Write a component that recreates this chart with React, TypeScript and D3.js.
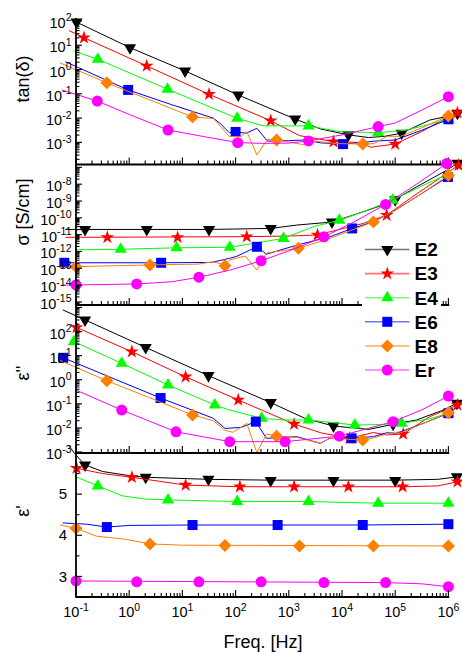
import React from "react";
import * as d3 from "d3";

type Pt = [number, number];

// x of every point: log10(frequency / Hz)
// y: log10(value) for tan(δ), σ and ε''; plain value for ε'
const FREQ_LABEL_EXPS = [-1, 0, 1, 2, 3, 4, 5, 6];

// ---------- tan(δ) ----------
const tanE2: Pt[] = [[-1.0, 1.96], [-0.99, 1.95], [0.015, 0.9], [1.05, -0.06], [2.05, -1.05], [3.12, -2.04], [3.6, -2.45], [4.12, -2.69], [4.5, -2.8], [4.8, -2.75], [5.12, -2.62], [5.65, -2.08], [6.0, -1.92], [6.17, -1.8]];
const tanE2M: Pt[] = [[-0.99, 1.95], [0.015, 0.9], [1.05, -0.06], [2.05, -1.05], [3.12, -2.04], [4.12, -2.69], [5.12, -2.62], [6.17, -1.8]];
const tanE3: Pt[] = [[-1.13, 1.6], [-0.85, 1.31], [0.33, 0.145], [1.5, -1.02], [2.66, -2.11], [3.2, -2.72], [3.84, -2.97], [4.3, -3.0], [4.55, -3.2], [4.7, -3.15], [5.0, -3.07], [5.5, -2.55], [6.0, -1.95], [6.17, -1.78]];
const tanE3M: Pt[] = [[-0.85, 1.31], [0.33, 0.145], [1.5, -1.02], [2.66, -2.11], [3.84, -2.97], [5.0, -3.07], [6.17, -1.78]];
const tanE4: Pt[] = [[-1.04, 0.76], [-0.59, 0.42], [0.72, -0.81], [2.03, -2.01], [2.52, -2.32], [3.37, -2.32], [3.96, -2.56], [4.68, -2.6], [5.2, -2.5], [5.65, -2.25], [6.0, -2.05]];
const tanE4M: Pt[] = [[-0.59, 0.42], [0.72, -0.81], [2.03, -2.01], [3.37, -2.32], [4.68, -2.6], [6.0, -2.05]];
const tanE6: Pt[] = [[-1.2, 0.32], [-0.02, -0.84], [0.8, -1.45], [1.58, -2.0], [1.72, -2.24], [1.88, -2.6], [2.0, -2.57], [2.2, -2.62], [2.4, -2.42], [2.6, -2.95], [3.0, -2.93], [3.3, -2.9], [3.6, -3.02], [4.02, -3.07], [4.4, -3.0], [4.6, -2.95], [5.0, -2.9], [5.5, -2.5], [6.0, -2.05]];
const tanE6M: Pt[] = [[-0.02, -0.84], [2.0, -2.57], [4.02, -3.07], [6.0, -2.05]];
const tanE8: Pt[] = [[-1.3, 0.27], [-0.42, -0.55], [0.5, -1.35], [1.19, -1.95], [1.58, -2.02], [1.72, -2.35], [1.88, -2.76], [2.1, -2.76], [2.21, -2.56], [2.4, -3.52], [2.6, -2.88], [2.77, -2.9], [3.3, -3.1], [3.5, -2.95], [3.9, -3.05], [4.39, -3.07], [4.6, -3.05], [4.85, -2.75], [5.1, -2.75], [5.5, -2.4], [6.0, -1.91]];
const tanE8M: Pt[] = [[-0.42, -0.55], [1.19, -1.95], [2.77, -2.9], [4.39, -3.07], [6.0, -1.91]];
const tanEr: Pt[] = [[-1.27, -0.84], [-0.6, -1.3], [0.0, -1.85], [0.73, -2.49], [1.5, -2.8], [2.04, -3.01], [2.5, -3.04], [3.0, -3.03], [3.37, -2.94], [4.0, -2.69], [4.68, -2.35], [5.0, -2.2], [5.5, -1.67], [6.0, -1.12]];
const tanErM: Pt[] = [[-0.6, -1.3], [0.73, -2.49], [2.04, -3.01], [3.37, -2.94], [4.68, -2.35], [6.0, -1.12]];

// ---------- σ [S/cm] ----------
const sigE2: Pt[] = [[-1.2, -10.69], [1.5, -10.69], [2.66, -10.63], [3.15, -10.43], [3.81, -10.25], [4.4, -9.64], [4.9, -9.09], [5.4, -8.16], [5.97, -7.17], [6.17, -6.75]];
const sigE2M: Pt[] = [[-0.83, -10.69], [0.33, -10.69], [1.5, -10.69], [2.66, -10.63], [3.81, -10.25], [5.0, -8.92], [6.17, -6.75]];
const sigE3: Pt[] = [[-1.2, -11.16], [2.21, -11.12], [3.0, -11.08], [3.54, -11.02], [3.77, -10.83], [4.4, -10.33], [4.84, -9.84], [5.3, -8.8], [5.72, -7.9], [6.19, -6.87]];
const sigE3M: Pt[] = [[-0.41, -11.16], [0.91, -11.16], [2.21, -11.12], [3.54, -11.02], [4.84, -9.84], [6.19, -6.87]];
const sigE4: Pt[] = [[-1.0, -11.9], [-0.16, -11.87], [0.89, -11.78], [1.89, -11.75], [2.52, -11.42], [2.9, -11.22], [3.46, -10.53], [3.95, -10.14], [4.4, -9.64], [4.95, -8.95], [5.5, -8.1], [6.0, -7.4]];
const sigE4M: Pt[] = [[-0.16, -11.87], [0.89, -11.78], [1.89, -11.75], [2.9, -11.22], [3.95, -10.14], [4.95, -8.95], [6.0, -7.4]];
const sigE6: Pt[] = [[-1.22, -12.67], [0.6, -12.67], [1.55, -12.65], [1.89, -12.4], [2.02, -12.29], [2.4, -11.72], [2.58, -12.16], [3.15, -11.62], [3.77, -11.13], [4.19, -10.63], [4.59, -10.24], [5.0, -9.55], [5.5, -8.55], [5.99, -7.57]];
const sigE6M: Pt[] = [[-1.22, -12.67], [0.6, -12.67], [2.4, -11.72], [4.19, -10.63], [5.99, -7.57]];
const sigE8: Pt[] = [[-1.3, -12.95], [-1.0, -12.9], [0.39, -12.8], [1.3, -12.75], [1.58, -12.61], [1.8, -12.8], [1.89, -12.5], [2.18, -12.27], [2.4, -13.1], [2.58, -12.09], [3.18, -11.81], [3.77, -11.23], [4.59, -10.24], [5.0, -9.55], [5.5, -8.55], [6.0, -7.47]];
const sigE8M: Pt[] = [[-1.0, -12.9], [0.39, -12.8], [1.8, -12.85], [3.18, -11.81], [4.59, -10.24], [6.0, -7.47]];
const sigEr: Pt[] = [[-1.27, -14.0], [-1.0, -13.99], [0.14, -13.93], [0.8, -13.8], [1.31, -13.53], [1.9, -13.1], [2.48, -12.55], [3.1, -11.85], [3.66, -11.13], [4.25, -10.2], [4.82, -9.2], [5.4, -8.0], [5.97, -6.77]];
const sigErM: Pt[] = [[-1.0, -13.99], [0.14, -13.93], [1.31, -13.53], [2.48, -12.55], [3.66, -11.13], [4.82, -9.2], [5.97, -6.77]];

// ---------- ε'' ----------
const eppE2: Pt[] = [[-1.25, 2.9], [-0.83, 2.48], [0.31, 1.34], [1.49, 0.17], [2.66, -0.95], [3.3, -1.6], [3.84, -1.92], [4.5, -2.06], [4.96, -1.85], [5.4, -1.67], [5.9, -1.26], [6.16, -0.98]];
const eppE2M: Pt[] = [[-0.83, 2.48], [0.31, 1.34], [1.49, 0.17], [2.66, -0.95], [3.84, -1.92], [4.96, -1.85], [6.16, -0.98]];
const eppE3: Pt[] = [[-1.1, 2.3], [-0.99, 2.17], [0.05, 1.16], [1.06, 0.12], [2.05, -0.84], [3.1, -1.84], [3.6, -2.2], [4.14, -2.43], [4.59, -2.19], [4.84, -2.29], [5.15, -2.25], [5.65, -1.53], [6.17, -1.05]];
const eppE3M: Pt[] = [[-0.99, 2.17], [0.05, 1.16], [1.06, 0.12], [2.05, -0.84], [3.1, -1.84], [4.14, -2.43], [5.15, -2.25], [6.17, -1.05]];
const eppE4: Pt[] = [[-1.1, 1.62], [-1.04, 1.58], [-0.14, 0.68], [0.73, -0.22], [1.61, -1.05], [1.89, -1.26], [2.49, -1.6], [2.9, -1.67], [3.37, -1.67], [4.24, -1.88], [4.7, -1.86], [5.12, -1.81], [5.65, -1.62], [6.0, -1.39]];
const eppE4M: Pt[] = [[-1.04, 1.58], [-0.14, 0.68], [0.73, -0.22], [1.61, -1.05], [2.49, -1.6], [3.37, -1.67], [4.24, -1.88], [5.12, -1.81], [6.0, -1.39]];
const eppE6: Pt[] = [[-1.24, 0.91], [0.59, -0.76], [1.58, -1.6], [1.8, -2.02], [2.1, -1.98], [2.38, -1.74], [2.58, -2.43], [3.15, -2.36], [3.59, -2.64], [3.77, -2.43], [4.18, -2.43], [4.59, -2.36], [4.84, -2.2], [5.03, -2.22], [5.6, -1.75], [6.0, -1.39]];
const eppE6M: Pt[] = [[-1.24, 0.91], [0.59, -0.76], [2.38, -1.74], [4.18, -2.43], [6.0, -1.39]];
const eppE8: Pt[] = [[-1.3, 0.8], [-0.42, -0.04], [1.19, -1.46], [1.58, -1.7], [1.8, -2.1], [1.95, -2.18], [2.21, -1.81], [2.4, -3.03], [2.58, -2.25], [2.77, -2.34], [3.15, -2.39], [3.59, -2.64], [3.77, -2.43], [4.39, -2.5], [4.59, -2.42], [4.84, -2.25], [5.1, -2.2], [5.6, -1.75], [6.0, -1.37]];
const eppE8M: Pt[] = [[-0.42, -0.04], [1.19, -1.46], [2.77, -2.34], [4.39, -2.5], [6.0, -1.37]];
const eppEr: Pt[] = [[-1.0, -0.43], [-0.14, -1.26], [0.88, -2.16], [1.89, -2.57], [2.93, -2.57], [3.95, -2.34], [4.96, -1.74], [5.5, -1.25], [6.0, -0.68]];
const eppErM: Pt[] = [[-0.14, -1.26], [0.88, -2.16], [1.89, -2.57], [2.93, -2.57], [3.95, -2.34], [4.96, -1.74], [6.0, -0.68]];

// ---------- ε' ----------
const epE2: Pt[] = [[-1.15, 6.2], [-1.0, 5.95], [-0.83, 5.71], [-0.5, 5.55], [0.0, 5.45], [0.31, 5.41], [1.49, 5.36], [2.66, 5.34], [3.84, 5.34], [5.0, 5.34], [5.8, 5.36], [6.16, 5.42]];
const epE2M: Pt[] = [[-0.83, 5.71], [0.31, 5.41], [1.49, 5.36], [2.66, 5.33], [3.84, 5.33], [5.0, 5.33], [6.16, 5.42]];
const epE3: Pt[] = [[-1.1, 5.68], [-0.99, 5.63], [-0.5, 5.5], [0.05, 5.41], [1.06, 5.22], [2.05, 5.18], [5.17, 5.18], [5.8, 5.2], [6.17, 5.3]];
const epE3M: Pt[] = [[-0.99, 5.63], [0.05, 5.41], [1.06, 5.22], [2.08, 5.18], [3.1, 5.18], [4.12, 5.18], [5.14, 5.18], [6.17, 5.3]];
const epE4: Pt[] = [[-1.0, 5.42], [-0.59, 5.2], [-0.13, 4.96], [0.3, 4.88], [0.73, 4.86], [2.03, 4.82], [3.37, 4.82], [4.68, 4.78], [6.0, 4.78]];
const epE4M: Pt[] = [[-0.59, 5.2], [0.73, 4.86], [2.03, 4.82], [3.37, 4.82], [4.68, 4.78], [6.0, 4.78]];
const epE6: Pt[] = [[-1.25, 4.3], [-0.8, 4.27], [-0.42, 4.2], [0.0, 4.24], [1.19, 4.25], [2.79, 4.25], [4.39, 4.25], [6.0, 4.27]];
const epE6M: Pt[] = [[-0.42, 4.2], [1.19, 4.25], [2.79, 4.25], [4.39, 4.25], [6.0, 4.27]];
const epE8: Pt[] = [[-1.3, 4.25], [-1.0, 4.17], [-0.62, 3.98], [-0.05, 3.9], [0.39, 3.79], [1.0, 3.76], [6.0, 3.74]];
const epE8M: Pt[] = [[-1.0, 4.17], [0.39, 3.79], [1.8, 3.75], [3.2, 3.74], [4.59, 3.74], [6.0, 3.74]];
const epEr: Pt[] = [[-1.0, 2.89], [4.82, 2.85], [5.5, 2.82], [6.0, 2.75]];
const epErM: Pt[] = [[-1.0, 2.89], [0.14, 2.87], [1.31, 2.87], [2.48, 2.87], [3.66, 2.85], [4.82, 2.85], [6.0, 2.75]];

const SERIES_NAMES = ["E2", "E3", "E4", "E6", "E8", "Er"];

type PanelKey = "tan" | "sig" | "epp" | "ep";
const SERIES_DATA: Record<PanelKey, [Pt[], Pt[]][]> = {
  tan: [[tanE2, tanE2M], [tanE3, tanE3M], [tanE4, tanE4M], [tanE6, tanE6M], [tanE8, tanE8M], [tanEr, tanErM]],
  sig: [[sigE2, sigE2M], [sigE3, sigE3M], [sigE4, sigE4M], [sigE6, sigE6M], [sigE8, sigE8M], [sigEr, sigErM]],
  epp: [[eppE2, eppE2M], [eppE3, eppE3M], [eppE4, eppE4M], [eppE6, eppE6M], [eppE8, eppE8M], [eppEr, eppErM]],
  ep: [[epE2, epE2M], [epE3, epE3M], [epE4, epE4M], [epE6, epE6M], [epE8, epE8M], [epEr, epErM]],
};

// ---------- styles ----------
const COLORS = ["#000000", "#ff0000", "#00ff00", "#0000ff", "#ff8000", "#ff00ff"];
const SHAPES = ["down", "star", "up", "square", "diamond", "circle"];
const FONT = "'Liberation Sans', Arial, Helvetica, sans-serif";

const SYM: Record<string, { d: string; rot: number }> = {
  down: { d: d3.symbol(d3.symbolTriangle, 64)() as string, rot: 180 },
  star: { d: d3.symbol(d3.symbolStar, 58)() as string, rot: 0 },
  up: { d: d3.symbol(d3.symbolTriangle, 64)() as string, rot: 0 },
  square: { d: d3.symbol(d3.symbolSquare, 100)() as string, rot: 0 },
  diamond: { d: d3.symbol(d3.symbolSquare, 84)() as string, rot: 45 },
  circle: { d: d3.symbol(d3.symbolCircle, 95)() as string, rot: 0 },
};

const X_LEFT = 76;
const X_RIGHT = 448.4;

interface Panel {
  key: PanelKey;
  top: number;
  bottom: number;
  log: boolean;
  lo: number;
  hi: number;
  labels: number[];
  minors?: number[];
  title: string;
  titleY: number;
}

const PANELS: Panel[] = [
  { key: "tan", top: 18, bottom: 164.5, log: true, lo: -3.91, hi: 2.12, labels: [-3, -2, -1, 0, 1, 2], title: "tan(δ)", titleY: 79 },
  { key: "sig", top: 164.5, bottom: 305, log: true, lo: -15.18, hi: -6.83, labels: [-15, -14, -13, -12, -11, -10, -9, -8], title: "σ [S/cm]", titleY: 212 },
  { key: "epp", top: 305, bottom: 453, log: true, lo: -3.04, hi: 3.1, labels: [-3, -2, -1, 0, 1, 2], title: "ε''", titleY: 373 },
  { key: "ep", top: 453, bottom: 597, log: false, lo: 2.5, hi: 6.0, labels: [3, 4, 5], minors: [3.5, 4.5, 5.5], title: "ε'", titleY: 511 },
];

const PowLabel = ({ x, y, exp, anchor }: { x: number; y: number; exp: number; anchor: string }) => (
  <text x={x} y={y} textAnchor={anchor} fontFamily={FONT} fontSize={14.5} fill="#000">
    <tspan>10</tspan>
    <tspan dy={-6.5} fontSize={10.5}>{exp < 0 ? "-" + Math.abs(exp) : String(exp)}</tspan>
  </text>
);

export default function App() {
  const x = d3.scaleLog().domain([1e-1, 1e6]).range([X_LEFT, X_RIGHT]);
  const xs = (lf: number) => x(Math.pow(10, lf));

  const panelEls = PANELS.map((p) => {
    const y = p.log
      ? d3.scaleLog().domain([Math.pow(10, p.lo), Math.pow(10, p.hi)]).range([p.bottom, p.top])
      : d3.scaleLinear().domain([p.lo, p.hi]).range([p.bottom, p.top]);
    const ys = (v: number) => (p.log ? y(Math.pow(10, v)) : y(v));
    const line = d3.line<Pt>().x((d) => xs(d[0])).y((d) => ys(d[1]));

    // y ticks
    const yTicks: { v: number; major: boolean }[] = [];
    if (p.log) {
      for (let e = Math.floor(p.lo); e <= Math.ceil(p.hi); e++) {
        if (e >= p.lo && e <= p.hi) yTicks.push({ v: e, major: true });
        for (let k = 2; k <= 9; k++) {
          const v = e + Math.log10(k);
          if (v >= p.lo && v <= p.hi) yTicks.push({ v, major: false });
        }
      }
    } else {
      p.labels.forEach((v) => yTicks.push({ v, major: true }));
      (p.minors || []).forEach((v) => yTicks.push({ v, major: false }));
    }

    // x ticks
    const xTicks: { lf: number; major: boolean }[] = [];
    for (let e = -1; e <= 6; e++) {
      xTicks.push({ lf: e, major: true });
      if (e < 6) for (let k = 2; k <= 9; k++) xTicks.push({ lf: e + Math.log10(k), major: false });
    }

    return (
      <g key={p.key}>
        {/* series */}
        {SERIES_DATA[p.key].map(([ln, mk], i) => (
          <g key={i}>
            <path d={line(ln) || ""} fill="none" stroke={COLORS[i]} strokeWidth={1} />
            {mk.map((d, j) => (
              <path
                key={j}
                d={SYM[SHAPES[i]].d}
                transform={`translate(${xs(d[0])},${ys(d[1])}) rotate(${SYM[SHAPES[i]].rot})`}
                fill={COLORS[i]}
                stroke="none"
              />
            ))}
          </g>
        ))}
        {/* bottom axis */}
        <line x1={X_LEFT} x2={X_RIGHT + 0.8} y1={p.bottom} y2={p.bottom} stroke="#000" strokeWidth={1.8} />
        {xTicks.map((t, i) => (
          <line
            key={"xt" + i}
            x1={xs(t.lf)}
            x2={xs(t.lf)}
            y1={p.bottom}
            y2={p.bottom - (t.major ? 7 : 4)}
            stroke="#000"
            strokeWidth={1.1}
          />
        ))}
        {/* left ticks */}
        {yTicks.map((t, i) => (
          <line
            key={"yt" + i}
            x1={X_LEFT}
            x2={X_LEFT + (t.major ? 6 : 3.5)}
            y1={ys(t.v)}
            y2={ys(t.v)}
            stroke="#000"
            strokeWidth={1.1}
          />
        ))}
        {/* y labels */}
        {p.labels.map((v) =>
          p.log ? (
            <PowLabel key={"yl" + v} x={71.5} y={ys(v) + 7} exp={v} anchor="end" />
          ) : (
            <text key={"yl" + v} x={67} y={ys(v) + 5.2} textAnchor="end" fontFamily={FONT} fontSize={15} fill="#000">
              {v}
            </text>
          )
        )}
        <text
          transform={`translate(29,${p.titleY}) rotate(-90)`}
          textAnchor="middle"
          fontFamily={FONT}
          fontSize={18}
          fill="#000"
        >
          {p.title}
        </text>
      </g>
    );
  });

  const legendTop = 249.5;
  const legendStep = 24.1;

  return (
    <svg
      width={462}
      height={653}
      viewBox="0 0 462 653"
      style={{ position: "absolute", left: 0, top: 0, background: "#fff" }}
    >
      <rect x={0} y={0} width={462} height={653} fill="#fff" />
      {panelEls}
      {/* left axis spine */}
      <line x1={X_LEFT} x2={X_LEFT} y1={18} y2={597.8} stroke="#000" strokeWidth={1.8} />
      {/* x tick labels */}
      {FREQ_LABEL_EXPS.map((e) => (
        <PowLabel key={"xl" + e} x={xs(e)} y={617} exp={e} anchor="middle" />
      ))}
      <text x={263} y={648} textAnchor="middle" fontFamily={FONT} fontSize={18} fill="#000">
        Freq. [Hz]
      </text>
      {/* legend */}
      <rect x={362} y={237} width={79} height={146} fill="#fff" />
      {SERIES_NAMES.map((n, i) => {
        const cy = legendTop + i * legendStep;
        return (
          <g key={n}>
            <line x1={365} x2={409.5} y1={cy} y2={cy} stroke={COLORS[i]} strokeOpacity={0.55} strokeWidth={1.6} />
            <path
              d={SYM[SHAPES[i]].d}
              transform={`translate(387.3,${cy}) rotate(${SYM[SHAPES[i]].rot})`}
              fill={COLORS[i]}
            />
            <text x={414.5} y={cy + 6.8} fontFamily={FONT} fontSize={19} fontWeight="bold" fill="#000">
              {n}
            </text>
          </g>
        );
      })}
    </svg>
  );
}
